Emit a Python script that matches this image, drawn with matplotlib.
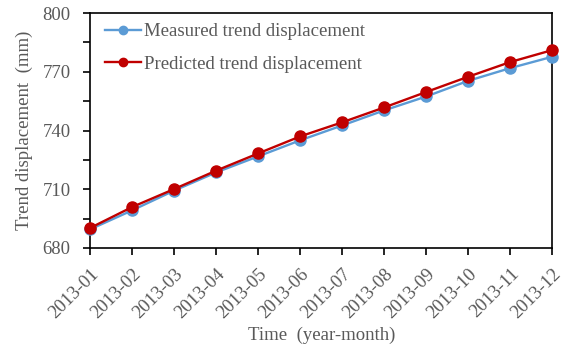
import matplotlib
matplotlib.use("Agg")
import matplotlib.pyplot as plt

months = ["2013-01", "2013-02", "2013-03", "2013-04", "2013-05", "2013-06",
          "2013-07", "2013-08", "2013-09", "2013-10", "2013-11", "2013-12"]
measured = [689.5, 699.2, 709.3, 718.6, 726.8, 735.0,
            742.6, 750.3, 757.4, 765.4, 771.9, 777.7]
predicted = [690.2, 700.9, 710.1, 719.5, 728.3, 737.0,
             744.2, 751.8, 759.7, 767.5, 775.0, 781.1]
yticks = [680, 710, 740, 770, 800]
yminor = [695, 725, 755, 785]

plt.rcParams['font.family'] = ['Liberation Serif', 'DejaVu Serif']
gray = '#595959'
fs = 13.5

fig = plt.figure(figsize=(5.68, 3.52), dpi=100)
ax = fig.add_axes([0.1585, 0.2955, 0.8142, 0.6675])

x = list(range(len(months)))
ax.plot(x, measured, color='#5B9BD5', lw=1.7, marker='o', ms=8,
        label='Measured trend displacement', clip_on=False, zorder=3)
ax.plot(x, predicted, color='#C00000', lw=1.7, marker='o', ms=8,
        label='Predicted trend displacement', clip_on=False, zorder=4)

ax.set_xlim(0, 11)
ax.set_ylim(680, 800)
ax.set_yticks(yticks)
ax.set_yticks(yminor, minor=True)
ax.set_xticks(x)
ax.set_xticklabels(months, rotation=45, ha='right', rotation_mode='anchor')

ax.tick_params(axis='both', which='both', direction='out', length=5,
               width=1.2, colors='black', labelcolor=gray, labelsize=fs)
ax.tick_params(axis='x', pad=7.5)
ax.tick_params(axis='y', pad=9)
for s in ax.spines.values():
    s.set_linewidth(1.2)

ax.set_ylabel('Trend displacement  (mm)', fontsize=fs, color=gray, labelpad=7)
ax.set_xlabel('Time  (year-month)', fontsize=fs, color=gray, labelpad=4)

leg = ax.legend(loc='upper left', bbox_to_anchor=(0.011, 1.0), frameon=False,
                fontsize=fs, labelspacing=0.8, handlelength=1.9,
                handletextpad=0.15, borderaxespad=0.15, markerscale=0.75)
for t in leg.get_texts():
    t.set_color(gray)

fig.savefig('out.png', dpi=100)
